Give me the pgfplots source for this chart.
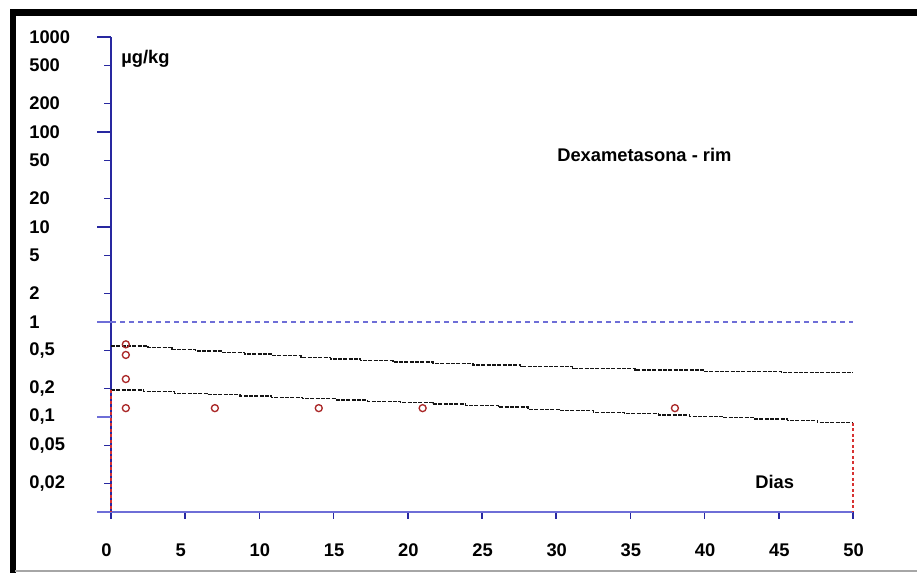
\documentclass[border=0pt]{standalone}
\usepackage{pgfplots}
\pgfplotsset{compat=1.18}
\usepackage{fontspec}
\setmainfont{Liberation Sans}
\definecolor{dblue}{RGB}{40,40,160}
\definecolor{lblue}{RGB}{110,110,215}
\definecolor{dred}{RGB}{170,40,40}
\definecolor{rdash}{RGB}{215,50,50}
\definecolor{dline}{RGB}{20,20,20}
\begin{document}
\begin{tikzpicture}
\useasboundingbox (0,0) rectangle (550.2pt,343.8pt);
\fill[white] (0,0) rectangle (550.2pt,343.8pt);
% frame
\draw[black, line width=4.2pt] (6pt,336.3pt) -- (550.2pt,336.3pt);
\draw[black, line width=3.6pt] (7.8pt,338.4pt) -- (7.8pt,0pt);
\draw[gray!70, line width=1.2pt] (9pt,1.5pt) -- (550.2pt,1.5pt);
\begin{axis}[
  at={(66.6pt,36.6pt)}, anchor=south west,
  scale only axis, width=445.2pt, height=285pt,
  xmin=0, xmax=50, ymin=0.01, ymax=1000, ymode=log,
  axis x line=bottom, axis y line=left,
  x axis line style={-, color=lblue, line width=1.3pt},
  y axis line style={-, color=dblue, line width=0.9pt},
  tick align=outside,
  xminorticks=false, yminorticks=false,
  every tick/.style={dblue, line width=0.9pt},
  major tick length=4.2pt,
  xtick={0,5,10,15,20,25,30,35,40,45,50},
  xticklabels={0,5,10,15,20,25,30,35,40,45,50},
  ytick={0.02,0.05,0.1,0.2,0.5,1,2,5,10,20,50,100,200,500,1000},
  yticklabels={{0,02},{0,05},{0,1},{0,2},{0,5},1,2,5,10,20,50,100,200,500,1000},
  every tick label/.append style={font=\fontsize{11}{13}\selectfont\bfseries, inner sep=0pt},
  yticklabel style={anchor=west, xshift=-45pt},
  xticklabel style={anchor=west, xshift=-6pt, yshift=-19pt},
  clip=false,
]
% major ticks
\draw[dblue, line width=0.9pt] (axis cs:-0.94,1000) -- (axis cs:0,1000);
\draw[dblue, line width=0.9pt] (axis cs:-0.94,100) -- (axis cs:0,100);
\draw[dblue, line width=0.9pt] (axis cs:-0.94,10) -- (axis cs:0,10);
\draw[lblue, line width=1.3pt] (axis cs:-0.94,1) -- (axis cs:0,1);
\draw[lblue, line width=1.3pt] (axis cs:-0.94,0.1) -- (axis cs:0,0.1);
\draw[lblue, line width=1.3pt] (axis cs:-0.94,0.01) -- (axis cs:0,0.01);
% limit line at 1
\addplot[lblue, line width=1.2pt, dash pattern=on 3pt off 2.4pt] coordinates {(0,1) (50,1)};
% upper stepped line
\addplot[dline, line width=0.8pt, dash pattern=on 2.4pt off 0.8pt, const plot] coordinates {
(0,0.559) (2.5,0.536) (4.1,0.516) (5.7,0.495) (7.5,0.475) (9.0,0.460)
(10.9,0.442) (12.8,0.425) (14.8,0.408) (16.8,0.391) (19.0,0.379) (21.7,0.368)
(24.4,0.353) (27.6,0.339) (31.1,0.3255) (35.3,0.3125) (39.9,0.300) (45.2,0.293) (50,0.293)};
% lower stepped line
\addplot[dline, line width=0.8pt, dash pattern=on 2.4pt off 0.8pt, const plot] coordinates {
(0,0.192) (2.2,0.1847) (4.3,0.1777) (6.5,0.1717) (8.7,0.1664) (10.8,0.1612)
(12.9,0.1558) (15.2,0.1510) (17.3,0.1463) (19.5,0.1414) (21.7,0.1370) (23.9,0.1328)
(26.1,0.1270) (28.1,0.1205) (30.3,0.1165) (32.5,0.1121) (34.6,0.1083) (36.9,0.1050)
(39.0,0.1017) (41.2,0.0983) (43.4,0.0953) (45.6,0.0923) (47.6,0.0870) (50,0.0870)};
% red vertical limits
\addplot[rdash, line width=0.9pt, dash pattern=on 1.8pt off 1.5pt] coordinates {(0,0.192) (0,0.01)};
\addplot[rdash, line width=0.9pt, dash pattern=on 1.8pt off 1.5pt] coordinates {(50,0.087) (50,0.01)};
% observations
\addplot[only marks, mark=o, mark size=2.1pt, mark options={dred, line width=0.8pt}] coordinates {
(1,0.582) (1,0.45) (1,0.251) (1,0.124) (7,0.124) (14,0.124) (21,0.124) (38,0.124)};
% texts
\node[anchor=west, inner sep=0pt, font=\fontsize{11}{13}\selectfont\bfseries] at (axis cs:0.67,587) {µg/kg};
\node[anchor=west, inner sep=0pt, font=\fontsize{11}{13}\selectfont\bfseries] at (axis cs:30.05,57.3) {Dexametasona - rim};
\node[anchor=west, inner sep=0pt, font=\fontsize{11}{13}\selectfont\bfseries] at (axis cs:43.4,0.0207) {Dias};
\end{axis}
\end{tikzpicture}
\end{document}
